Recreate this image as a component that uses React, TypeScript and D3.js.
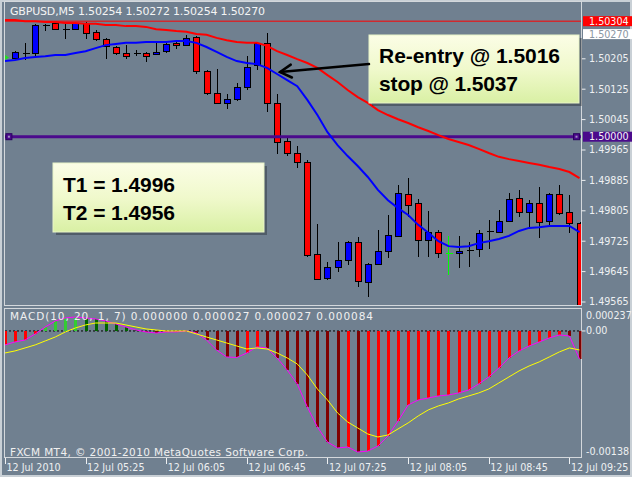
import React from "react";
import * as d3 from "d3";

// ---------- DATA ----------
// bar index k: 0 = 12 Jul 04:45 ... 57 = 12 Jul 09:30 (M5 bars)
const firstCandleBar = 1;
const markedBar = 44; // doji drawn in green

const candleOpen = [1.50207,1.50220,1.50220,1.50294,1.50299,1.50283,1.50283,1.50299,1.50276,1.50257,
1.50236,1.50220,1.50220,1.50220,1.50218,1.50225,1.50247,1.50241,1.50262,1.50173,
1.50115,1.50089,1.50099,1.50131,1.50189,1.50247,1.50089,1.49989,1.49957,1.49933,
1.49691,1.49628,1.49657,1.49676,1.49723,1.49618,1.49665,1.49699,1.49739,1.49849,
1.49826,1.49728,1.49749,1.49694,1.49694,1.49702,1.49704,1.49752,1.49749,1.49778,
1.49839,1.49802,1.49826,1.49778,1.49849,1.49802,1.49773];
const candleHigh = [1.50225,1.50247,1.50297,1.50297,1.50302,1.50297,1.50302,1.50302,1.50281,1.50260,
1.50239,1.50241,1.50228,1.50223,1.50247,1.50249,1.50252,1.50268,1.50265,1.50176,
1.50178,1.50112,1.50141,1.50212,1.50249,1.50273,1.50112,1.49999,1.49975,1.49939,
1.49770,1.49670,1.49723,1.49725,1.49736,1.49668,1.49754,1.49794,1.49873,1.49891,
1.49836,1.49804,1.49754,1.49739,1.49739,1.49723,1.49754,1.49781,1.49807,1.49852,
1.49860,1.49833,1.49868,1.49852,1.49873,1.49847,1.49776];
const candleLow = [1.50204,1.50202,1.50212,1.50278,1.50281,1.50257,1.50281,1.50257,1.50252,1.50204,
1.50215,1.50204,1.50212,1.50197,1.50215,1.50220,1.50231,1.50239,1.50165,1.50110,
1.50086,1.50073,1.50094,1.50123,1.50176,1.50065,1.49954,1.49949,1.49918,1.49683,
1.49623,1.49623,1.49644,1.49662,1.49604,1.49578,1.49662,1.49681,1.49736,1.49789,
1.49683,1.49683,1.49681,1.49636,1.49654,1.49657,1.49683,1.49704,1.49747,1.49776,
1.49789,1.49762,1.49733,1.49768,1.49794,1.49747,1.49500];
const candleClose = [1.50223,1.50220,1.50294,1.50294,1.50283,1.50283,1.50299,1.50273,1.50257,1.50239,
1.50220,1.50212,1.50220,1.50212,1.50223,1.50244,1.50241,1.50260,1.50173,1.50115,
1.50089,1.50099,1.50131,1.50183,1.50247,1.50089,1.49986,1.49957,1.49933,1.49689,
1.49626,1.49657,1.49676,1.49723,1.49620,1.49665,1.49699,1.49741,1.49852,1.49820,
1.49728,1.49749,1.49694,1.49694,1.49699,1.49702,1.49747,1.49752,1.49778,1.49836,
1.49802,1.49826,1.49776,1.49849,1.49799,1.49773,1.49510];

const redMA = [1.50307,1.50307,1.50304,1.50304,1.50302,1.50302,1.50299,1.50299,1.50297,1.50297,
1.50294,1.50294,1.50291,1.50291,1.50289,1.50283,1.50281,1.50278,1.50276,1.50270,
1.50268,1.50260,1.50254,1.50249,1.50247,1.50247,1.50239,1.50225,1.50215,1.50204,
1.50194,1.50181,1.50162,1.50144,1.50123,1.50104,1.50089,1.50070,1.50057,1.50046,
1.50036,1.50025,1.50015,1.50004,1.49994,1.49986,1.49978,1.49968,1.49957,1.49947,
1.49941,1.49936,1.49931,1.49926,1.49920,1.49915,1.49907,1.49891];
const blueMA = [1.50199,1.50202,1.50207,1.50210,1.50212,1.50215,1.50215,1.50220,1.50225,1.50233,
1.50241,1.50244,1.50247,1.50247,1.50249,1.50249,1.50249,1.50252,1.50252,1.50247,
1.50236,1.50223,1.50210,1.50199,1.50194,1.50191,1.50181,1.50165,1.50149,1.50133,
1.50097,1.50057,1.50012,1.49978,1.49949,1.49923,1.49894,1.49860,1.49833,1.49812,
1.49794,1.49768,1.49747,1.49725,1.49712,1.49710,1.49712,1.49720,1.49725,1.49731,
1.49739,1.49752,1.49760,1.49762,1.49765,1.49765,1.49765,1.49749];

const macdMain = [-0.000158,-0.000124,-0.000102,-0.000034,0.000045,0.000113,0.000147,0.000158,0.000147,0.000136,
0.000113,0.000079,0.000045,0.000011,-0.000011,-0.000023,-0.000011,-0.000011,0.000000,-0.000023,
-0.000102,-0.000215,-0.000294,-0.000300,-0.000249,-0.000181,-0.000192,-0.000305,-0.000441,-0.000599,
-0.000860,-0.001086,-0.001256,-0.001323,-0.001312,-0.001369,-0.001358,-0.001301,-0.001188,-0.001018,
-0.000837,-0.000781,-0.000758,-0.000735,-0.000724,-0.000701,-0.000668,-0.000599,-0.000520,-0.000419,
-0.000305,-0.000226,-0.000170,-0.000124,-0.000079,-0.000045,-0.000057,-0.000317];
const macdSignal = [-0.000249,-0.000226,-0.000192,-0.000158,-0.000113,-0.000068,-0.000011,0.000034,0.000068,0.000090,
0.000090,0.000090,0.000068,0.000045,0.000023,0.000011,0.000000,0.000000,0.000000,-0.000034,
-0.000068,-0.000102,-0.000136,-0.000170,-0.000204,-0.000192,-0.000204,-0.000249,-0.000305,-0.000373,
-0.000497,-0.000656,-0.000780,-0.000927,-0.001029,-0.001097,-0.001165,-0.001199,-0.001176,-0.001108,
-0.001040,-0.000961,-0.000893,-0.000848,-0.000814,-0.000769,-0.000735,-0.000701,-0.000656,-0.000588,
-0.000520,-0.000452,-0.000396,-0.000350,-0.000294,-0.000237,-0.000192,-0.000215];

const priceTicks = [1.50205, 1.50125, 1.50045, 1.49965, 1.49885, 1.49805, 1.49725, 1.49645, 1.49565];
const priceTickLabels = ["1.50205","1.50125","1.50045","1.49965","1.49885","1.49805","1.49725","1.49645","1.49565"];
const markerPrices = [1.50304, 1.50270, 1.50000];
const markerLabels = ["1.50304", "1.50270", "1.50000"];
const macdTicks = [0.000237, 0, -0.00138];
const macdTickLabels = ["0.000237", "0.00", "-0.00138"];
const timeTickBars = [0, 8, 16, 24, 32, 40, 48, 56];
const timeTickLabels = ["12 Jul 2010","12 Jul 05:25","12 Jul 06:05","12 Jul 06:45","12 Jul 07:25","12 Jul 08:05","12 Jul 08:45","12 Jul 09:25"];

const headerText = "GBPUSD,M5  1.50254 1.50272 1.50254 1.50270";
const macdText = "MACD(10, 20, 1, 7) 0.000000 0.000027 0.000027 0.000084";
const copyText = "FXCM MT4, \u00A9 2001-2010 MetaQuotes Software Corp.";
const reentryLines = ["Re-entry @ 1.5016", "stop @ 1.5037"];
const targetLines = ["T1 = 1.4996", "T2 = 1.4956"];
const arrowTipBar = 27.3;
const arrowTipPrice = 1.5017;

// ---------- STYLE ----------
const BG = "#708090";
const FRAME = "#d4d8dc";
const AXIS_TXT = "#eef0f2";
const PURPLE = "#4b0a8c";
const FONT = "'DejaVu Sans', Verdana, sans-serif";
const BOLD = "'Liberation Sans', Arial, sans-serif";

export default function App() {
  const left = 5, right = 581.5;
  const mainTop = 2, mainBottom = 306;
  const macdTop = 309, macdBottom = 458;

  const x = d3.scaleLinear().domain([0, 57]).range([4.9, 579.5]);
  const yP = d3.scaleLinear().domain([1.49565, 1.50205]).range([302, 58.8]);
  const yM = d3.scaleLinear().domain([-0.00138, 0.000237]).range([453, 310]);

  const priceLine = d3.line<number>().x((_, i) => x(i)).y((d) => yP(d));
  const macdLine = d3.line<number>().x((_, i) => x(i)).y((d) => yM(d));

  const tipX = x(arrowTipBar), tipY = yP(arrowTipPrice);
  const tailX = 369, tailY = 64;
  const ang = Math.atan2(tailY - tipY, tailX - tipX);
  const barb = 13, spread = 0.52;
  const b1 = [tipX + barb * Math.cos(ang - spread), tipY + barb * Math.sin(ang - spread)];
  const b2 = [tipX + barb * Math.cos(ang + spread), tipY + barb * Math.sin(ang + spread)];

  const box = (bx: number, by: number, bw: number, bh: number, lines: string[], widths: number[], tx: number, baselines: number[]) => (
    <g>
      <rect x={bx + 3} y={by + 3} width={bw} height={bh} fill="#000" opacity={0.28} />
      <rect x={bx} y={by} width={bw} height={bh} fill="url(#boxGrad)" stroke="#e8f4c8" strokeWidth={1} />
      {lines.map((t, i) => (
        <text key={i} x={tx} y={baselines[i]} fontFamily={BOLD} fontWeight="bold" fontSize={21} fill="#000" textLength={widths[i]}>{t}</text>
      ))}
    </g>
  );

  return (
    <svg width={632} height={477} style={{ position: "absolute", left: 0, top: 0, display: "block" }}>
      <defs>
        <clipPath id="mainClip"><rect x={left} y={mainTop} width={right - left} height={mainBottom - mainTop} /></clipPath>
        <clipPath id="macdClip"><rect x={left} y={macdTop} width={right - left} height={macdBottom - macdTop} /></clipPath>
        <linearGradient id="boxGrad" x1="0" y1="0" x2="0" y2="1">
          <stop offset="0" stopColor="#fbfde6" />
          <stop offset="0.5" stopColor="#f0f9cc" />
          <stop offset="1" stopColor="#d9f0a4" />
        </linearGradient>
      </defs>
      <rect x={0} y={0} width={632} height={477} fill={BG} />
      <rect x={1} y={1} width={630} height={475} fill="none" stroke="#c9d0d6" strokeWidth={2} />

      {/* main panel */}
      <g clipPath="url(#mainClip)">
        <line x1={left} x2={right} y1={yP(markerPrices[0])} y2={yP(markerPrices[0])} stroke="#ff0000" strokeWidth={1} />
        {candleOpen.map((o, j) => {
          const k = j + firstCandleBar;
          const cx = Math.round(x(k)) + 0.5;
          const h = candleHigh[j], l = candleLow[j], c = candleClose[j];
          const col = k === markedBar ? "#00ff00" : "#000";
          if (o === c) {
            const yy = Math.round(yP(o)) + 0.5;
            return (
              <g key={k} shapeRendering="crispEdges">
                <line x1={cx} x2={cx} y1={yP(h)} y2={yP(l)} stroke={col} />
                <line x1={cx - 3} x2={cx + 4} y1={yy} y2={yy} stroke={col} />
              </g>
            );
          }
          const top = Math.round(yP(Math.max(o, c))) + 0.5;
          const bot = Math.round(yP(Math.min(o, c))) + 0.5;
          return (
            <g key={k} shapeRendering="crispEdges">
              <line x1={cx} x2={cx} y1={yP(h)} y2={yP(l)} stroke="#000" />
              <rect x={cx - 3} y={top} width={6} height={Math.max(1, bot - top)} fill={c > o ? "#0000ff" : "#ff0000"} stroke="#000" />
            </g>
          );
        })}
        <line x1={left} x2={right} y1={yP(markerPrices[2])} y2={yP(markerPrices[2])} stroke={PURPLE} strokeWidth={3} />
        <path d={priceLine(redMA) || ""} fill="none" stroke="#ff0000" strokeWidth={2} />
        <path d={priceLine(blueMA) || ""} fill="none" stroke="#0000ff" strokeWidth={2} />
        <path d={`M${left},${yP(blueMA[1]) - 5}L${left + 4},${yP(blueMA[1]) - 2.5}L${left},${yP(blueMA[1])}Z`} fill="#22dd22" />
      </g>
      {[x(0) + 4, x(57) - 3].map((px, i) => (
        <g key={i}>
          <rect x={px - 3} y={yP(markerPrices[2]) - 3} width={6} height={6} fill={PURPLE} stroke="#2a0060" />
          <rect x={px - 1} y={yP(markerPrices[2]) - 1} width={2} height={2} fill="#a090c0" />
        </g>
      ))}

      {/* panel frames */}
      <g fill="none" stroke={FRAME} strokeWidth={1} shapeRendering="crispEdges">
        <rect x={left - 0.5} y={mainTop - 0.5} width={right - left + 0.5} height={mainBottom - mainTop} />
        <rect x={left - 0.5} y={macdTop - 0.5} width={right - left + 0.5} height={macdBottom - macdTop} />
      </g>

      <text x={10} y={15} fontFamily={FONT} fontSize={11} fill="#f4f4f4" textLength={255}>{headerText}</text>

      {/* right price axis */}
      {priceTicks.map((p, i) => (
        <g key={i}>
          <line x1={right} x2={right + 4} y1={yP(p)} y2={yP(p)} stroke={AXIS_TXT} />
          <text x={589} y={yP(p)} dy="0.36em" fontFamily={FONT} fontSize={9.6} fill={AXIS_TXT}>{priceTickLabels[i]}</text>
        </g>
      ))}
      {markerPrices.map((p, i) => {
        const bg = i === 0 ? "#ff0000" : i === 1 ? "#ffffff" : PURPLE;
        const fg = i === 1 ? "#8a96a2" : "#f4f4f4";
        return (
          <g key={i}>
            <rect x={583} y={yP(p) - 5} width={49} height={10} fill={bg} />
            <text x={589} y={yP(p)} dy="0.36em" fontFamily={FONT} fontSize={9.6} fill={fg}>{markerLabels[i]}</text>
          </g>
        );
      })}

      {/* annotations */}
      {box(369, 35, 210, 68, reentryLines, [181, 139], 379, [63, 91])}
      {box(53, 163, 211, 69, targetLines, [112, 112], 63, [192, 220])}
      <g stroke="#000" strokeWidth={2.5} fill="none" strokeLinecap="round">
        <line x1={tailX} y1={tailY} x2={tipX} y2={tipY} />
        <polyline points={`${b1[0]},${b1[1]} ${tipX},${tipY} ${b2[0]},${b2[1]}`} />
      </g>

      {/* MACD panel */}
      <g clipPath="url(#macdClip)">
        <line x1={left} x2={right} y1={yM(0)} y2={yM(0)} stroke="#000" strokeDasharray="2,2" />
        {macdMain.map((v, k) => {
          const prev = k > 0 ? macdMain[k - 1] : v;
          const rising = v >= prev;
          const col = v >= 0 ? (rising ? "#33cc33" : "#006400") : (rising ? "#ff0000" : "#800000");
          const y0 = yM(0), y1 = yM(v);
          return (
            <rect key={k} x={Math.round(x(k)) - 1} y={Math.min(y0, y1)} width={3} height={Math.max(0.5, Math.abs(y1 - y0))} fill={col} shapeRendering="crispEdges" />
          );
        })}
        <path d={macdLine(macdMain) || ""} fill="none" stroke="#ff00ff" strokeWidth={1} />
        <path d={macdLine(macdSignal) || ""} fill="none" stroke="#ffff00" strokeWidth={1} />
      </g>
      <text x={10} y={320} fontFamily={FONT} fontSize={10.5} fill="#f0f0f0" textLength={363}>{macdText}</text>
      <text x={10} y={456} fontFamily={FONT} fontSize={10.5} fill="#f0f0f0" textLength={298}>{copyText}</text>
      {macdTicks.map((v, i) => (
        <g key={i}>
          {i === 1 && <line x1={right} x2={right + 4} y1={yM(v)} y2={yM(v)} stroke={AXIS_TXT} />}
          <text x={586} y={yM(v)} dy={i === 0 ? "0.9em" : i === 2 ? "0.2em" : "0.36em"} fontFamily={FONT} fontSize={9.6} fill={AXIS_TXT}>{macdTickLabels[i]}</text>
        </g>
      ))}

      {/* time axis */}
      {timeTickBars.map((k, i) => (
        <g key={i}>
          <line x1={Math.round(x(k)) + 0.5} x2={Math.round(x(k)) + 0.5} y1={macdBottom} y2={macdBottom + 6} stroke={AXIS_TXT} />
          <text x={x(k) + 1.5} y={471} fontFamily={FONT} fontSize={9.6} fill={AXIS_TXT}>{timeTickLabels[i]}</text>
        </g>
      ))}
    </svg>
  );
}
